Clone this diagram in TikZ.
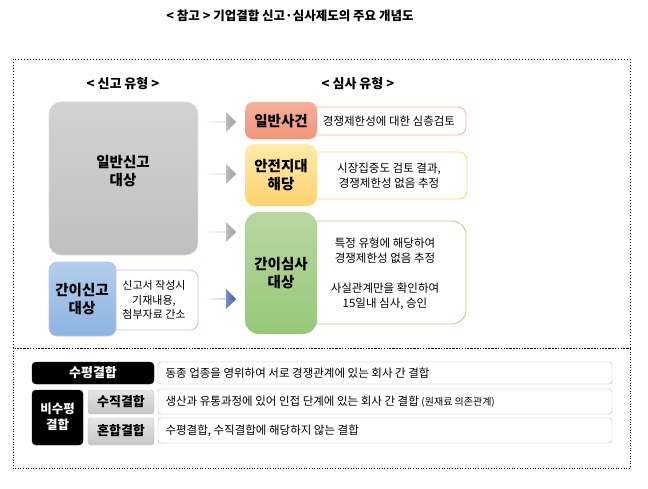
\documentclass[tikz,border=0pt]{standalone}
\usepackage{fontspec}
\setmainfont{Noto Sans CJK KR}
\usetikzlibrary{shapes.arrows}
\begin{document}
\begin{tikzpicture}[x=1pt,y=-1pt,
 box/.style={rounded corners=8pt,line width=0.8pt},
 txt/.style={font=\fontsize{11.5}{15}\selectfont,align=center},
 big/.style={font=\bfseries\fontsize{14.5}{17.5}\selectfont,align=center},
 arr/.style={single arrow,minimum width=20pt,single arrow head extend=4pt,single arrow head indent=0pt,minimum height=30pt,inner sep=0pt,shape border rotate=0}]
\useasboundingbox (0,0) rectangle (648,488);
\node[font=\bfseries\fontsize{12.5}{15}\selectfont] (title) at (290,16) {< 참고 > 기업결합 신고·심사제도의 주요 개념도};
\draw[dotted,line width=1pt] (13,59) rectangle (630,348);
\draw[dotted,line width=0.6pt] (13,348) rectangle (630,468);
\node[font=\bfseries\fontsize{13}{15}\selectfont] (h1) at (123,84) {< 신고 유형 >};
\node[font=\bfseries\fontsize{13}{15}\selectfont] (h2) at (358,84) {< 심사 유형 >};
% gray big
\draw[box,rounded corners=12pt,draw=gray!25,top color=gray!35,bottom color=gray!50] (49,102) rectangle (198,255);
\node[big] (g) at (123,171) {일반신고\\대상};
% blue
\draw[box,draw=blue!25,fill=white] (110,270) rectangle (198,330);
\draw[box,draw=blue!25,top color={rgb,255:red,180;green,205;blue,235},bottom color={rgb,255:red,140;green,180;blue,225}] (49,262) rectangle (116,336);
\node[big] (b) at (82,299) {간이신고\\대상};
\node[txt,font=\fontsize{11}{14.5}\selectfont] (bt) at (154,300) {신고서 작성시\\기재내용,\\첨부자료 간소};
% arrows
\foreach \yy in {122,174,232}{
 \node[arr,left color=gray!8,right color=gray!75] at (221,\yy) {};}
\node[arr,left color=blue!5,right color={rgb,255:red,60;green,90;blue,180}] (ab) at (221,299) {};
% right
\draw[box,draw={rgb,255:red,245;green,180;blue,160},fill=white] (305,107) rectangle (466,135);
\draw[box,draw=none,top color={rgb,255:red,245;green,175;blue,155},bottom color={rgb,255:red,240;green,150;blue,120}] (245,102) rectangle (317,139);
\node[big] (r1) at (281,121) {일반사건};
\node[txt] (r1t) at (389,121) {경쟁제한성에 대한 심층검토};
\draw[box,draw={rgb,255:red,255;green,220;blue,110},fill=white] (305,152) rectangle (467,199);
\draw[box,rounded corners=10pt,draw=none,top color={rgb,255:red,255;green,235;blue,170},bottom color={rgb,255:red,255;green,210;blue,110}] (245,144) rectangle (317,206);
\node[big] (r2) at (281,175) {안전지대\\해당};
\node[txt] (r2t) at (389,176) {시장집중도 검토 결과,\\경쟁제한성 없음 추정};
\draw[box,rounded corners=14pt,draw={rgb,255:red,170;green,210;blue,140},fill=white] (305,221) rectangle (466,324);
\draw[box,rounded corners=14pt,draw=none,top color={rgb,255:red,185;green,215;blue,160},bottom color={rgb,255:red,150;green,200;blue,120}] (245,212) rectangle (317,334);
\node[big] (r3) at (281,273) {간이심사\\대상};
\node[txt] (r3t) at (385,251) {특정 유형에 해당하여\\경쟁제한성 없음 추정};
\node[txt] (r3u) at (385,296) {사실관계만을 확인하여\\15일내 심사, 승인};
% bottom
\tikzset{wb/.style={draw=gray!60,fill=white,rounded corners=3pt},
 kb/.style={fill=black,rounded corners=4pt},
 gb/.style={top color=gray!20,bottom color=gray!45,draw=gray!50,rounded corners=3pt},
 bt/.style={font=\fontsize{11.5}{13}\selectfont,anchor=west}}
\draw[kb] (32,362) rectangle (154,384);
\node[big,text=white,font=\bfseries\fontsize{13}{15}\selectfont] (k1) at (93,373) {수평결합};
\draw[wb] (158,362) rectangle (612,384);
\node[bt] (k1t) at (162,373) {동종 업종을 영위하여 서로 경쟁관계에 있는 회사 간 결합};
\draw[kb] (32,390) rectangle (83,445);
\node[big,text=white,font=\bfseries\fontsize{12.5}{16}\selectfont] (k2) at (57.5,417) {비수평\\결합};
\draw[gb] (88,390) rectangle (154,414);
\node[big,font=\bfseries\fontsize{13}{15}\selectfont] (k3) at (121,402) {수직결합};
\draw[wb] (158,389) rectangle (612,414);
\node[bt] (k3t) at (162,401.5) {생산과 유통과정에 있어 인접 단계에 있는 회사 간 결합 {\fontsize{10}{12}\selectfont (원재료 의존관계)}};
\draw[gb] (88,418) rectangle (154,445);
\node[big,font=\bfseries\fontsize{13}{15}\selectfont] (k4) at (121,431) {혼합결합};
\draw[wb] (158,418) rectangle (612,443);
\node[bt] (k4t) at (162,430.5) {수평결합, 수직결합에 해당하지 않는 결합};
\end{tikzpicture}
\end{document}
